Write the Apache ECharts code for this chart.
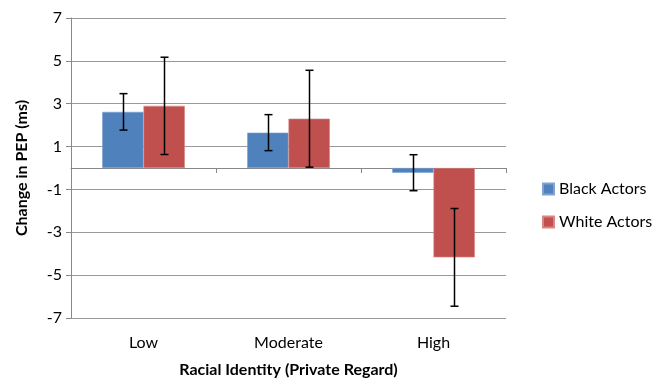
<!DOCTYPE html>
<html><head><meta charset="utf-8">
<script src="https://cdn.jsdelivr.net/npm/echarts@6/dist/echarts.min.js"></script>
<style>html,body{margin:0;padding:0;background:#fff}#c{width:665px;height:383px}</style>
</head><body><div id="c"></div>
<script>
const categories = ['Low', 'Moderate', 'High'];
const blackValues = [2.62, 1.65, -0.22];
const whiteValues = [2.90, 2.30, -4.17];
const blackErr = [0.85, 0.84, 0.84];
const whiteErr = [2.27, 2.26, 2.28];
const yTicks = [-7, -5, -3, -1, 1, 3, 5, 7];

const FONT = 'Lato, "Open Sans", sans-serif';
const CAT_GAP = 0.43;

function errData(vals, errs) {
  return vals.map((v, i) => [i, v - errs[i], v + errs[i]]);
}
function errSeries(name, vals, errs, side) {
  return {
    type: 'custom', name: name + ' err', xAxisIndex: 0, yAxisIndex: 0, z: 10,
    silent: true,
    data: errData(vals, errs),
    renderItem: function (params, api) {
      const i = api.value(0);
      const lo = api.coord([i, api.value(1)]);
      const hi = api.coord([i, api.value(2)]);
      const catW = api.size([1, 0])[0];
      const bw = catW * (1 - CAT_GAP) / 2;
      const x = Math.round(lo[0] + side * bw / 2) + 0.5;
      const cap = 4;
      const st = { stroke: '#000', lineWidth: 1.5 };
      return { type: 'group', children: [
        { type: 'line', shape: { x1: x, y1: hi[1], x2: x, y2: lo[1] }, style: st },
        { type: 'line', shape: { x1: x - cap, y1: hi[1], x2: x + cap, y2: hi[1] }, style: st },
        { type: 'line', shape: { x1: x - cap, y1: lo[1], x2: x + cap, y2: lo[1] }, style: st }
      ]};
    }
  };
}

const chart = echarts.init(document.getElementById('c'));
chart.setOption({
  animation: false,
  textStyle: { fontFamily: FONT },
  grid: { left: 71, right: 159, top: 18, bottom: 63 },
  legend: {
    orient: 'vertical', left: 537, top: 176,
    itemWidth: 11, itemHeight: 11, itemGap: 17,
    icon: 'rect',
    data: ['Black Actors', 'White Actors'],
    textStyle: { fontSize: 16, color: '#000', fontFamily: FONT }
  },
  xAxis: [
    {
      type: 'category', data: categories, position: 'bottom',
      axisLine: { show: false, onZero: false }, axisTick: { show: false },
      axisLabel: { fontSize: 16, color: '#000', margin: 17, fontFamily: FONT },
      name: 'Racial Identity (Private Regard)', nameLocation: 'middle', nameGap: 44,
      nameTextStyle: { fontSize: 16, fontWeight: 'bold', color: '#000', fontFamily: FONT }
    },
    {
      type: 'category', data: categories, position: 'bottom',
      axisLine: { show: true, onZero: true, onZeroAxisIndex: 0, lineStyle: { color: '#888', width: 1 } },
      axisTick: { show: true, length: 5, lineStyle: { color: '#888' } },
      axisLabel: { show: false }
    }
  ],
  yAxis: {
    type: 'value', min: -7, max: 7, interval: 2,
    axisLine: { show: true, lineStyle: { color: '#888' } },
    axisTick: { show: true, length: 5, lineStyle: { color: '#888' } },
    splitLine: { show: true, lineStyle: { color: '#999', width: 1 } },
    axisLabel: { fontSize: 16, color: '#000', margin: 9, fontFamily: FONT,
      formatter: v => (yTicks.includes(v) ? String(v) : '') },
    name: 'Change in PEP (ms)', nameLocation: 'middle', nameGap: 41, nameRotate: 90,
    nameTextStyle: { fontSize: 16, fontWeight: 'bold', color: '#000', fontFamily: FONT }
  },
  series: [
    { name: 'Black Actors', type: 'bar', data: blackValues, barGap: '0%', barCategoryGap: (CAT_GAP * 100) + '%',
      itemStyle: { color: '#4F81BD', borderColor: '#7FA3D3', borderWidth: 0.6 } },
    { name: 'White Actors', type: 'bar', data: whiteValues, barGap: '0%', barCategoryGap: (CAT_GAP * 100) + '%',
      itemStyle: { color: '#C0504D', borderColor: '#D88583', borderWidth: 0.6 } },
    errSeries('Black Actors', blackValues, blackErr, -1),
    errSeries('White Actors', whiteValues, whiteErr, 1)
  ]
});
</script></body></html>
